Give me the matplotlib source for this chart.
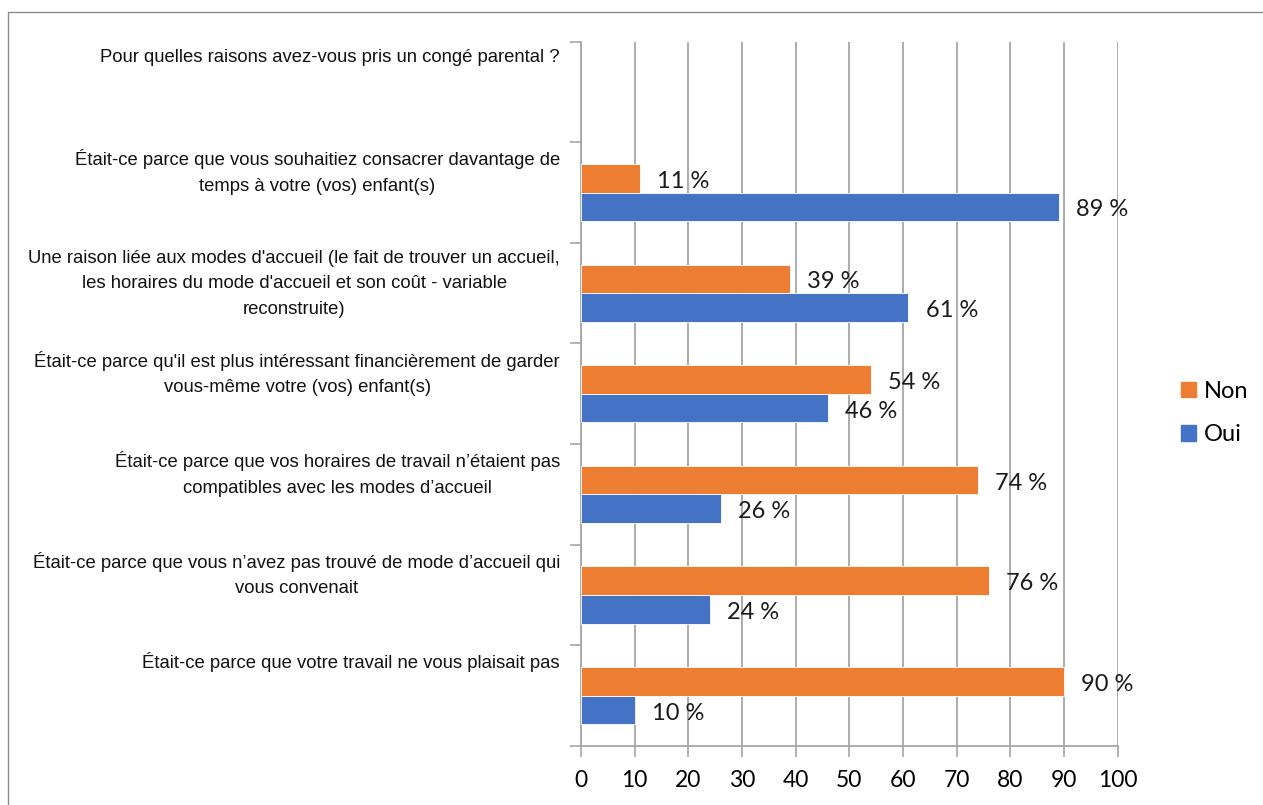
import numpy as np
import matplotlib
matplotlib.use("Agg")
import matplotlib.pyplot as plt
import matplotlib.patches as mpatches
from matplotlib.transforms import blended_transform_factory

# Survey answers, top to bottom (first row is the question itself, no bars)
categories = [
    "Pour quelles raisons avez-vous pris un congé parental ?",
    "Était-ce parce que vous souhaitiez consacrer davantage de\ntemps à votre (vos) enfant(s)",
    "Une raison liée aux modes d'accueil (le fait de trouver un accueil,\nles horaires du mode d'accueil et son coût - variable\nreconstruite)",
    "Était-ce parce qu'il est plus intéressant financièrement de garder\nvous-même votre (vos) enfant(s)",
    "Était-ce parce que vos horaires de travail n\u2019étaient pas\ncompatibles avec les modes d\u2019accueil",
    "Était-ce parce que vous n\u2019avez pas trouvé de mode d\u2019accueil qui\nvous convenait",
    "Était-ce parce que votre travail ne vous plaisait pas",
]
non_pct = [np.nan, 11, 39, 54, 74, 76, 90]
oui_pct = [np.nan, 89, 61, 46, 26, 24, 10]
series_names = ["Non", "Oui"]
xticks = list(range(0, 101, 10))

c_non = "#ED7D31"
c_oui = "#4472C4"
grid_c = "#a6a6a6"

label_font = ["Liberation Sans", "DejaVu Sans"]
label_size = 13.3
num_font = ["Lato", "DejaVu Sans"]

fig = plt.figure(figsize=(12.63, 8.05), dpi=100)
ax = fig.add_axes([0.460, 0.0733, 0.425, 0.875])

# outer chart frame
fig.add_artist(mpatches.Rectangle((8 / 1263, -0.1), 1.2, 1 - 12 / 805 + 0.1,
                                  transform=fig.transFigure, fill=False,
                                  edgecolor="#8c8c8c", linewidth=1.0))

y = np.arange(len(categories))
h = 0.285
ax.barh(y - h / 2, non_pct, height=h, color=c_non, edgecolor="white",
        linewidth=0.6, label=series_names[0], zorder=3)
ax.barh(y + h / 2, oui_pct, height=h, color=c_oui, edgecolor="white",
        linewidth=0.6, label=series_names[1], zorder=3)

# value labels
for yi, n, o in zip(y, non_pct, oui_pct):
    if not np.isnan(n):
        ax.text(n + 3.2, yi - h / 2 + 0.03, f"{n:.0f} %", va="center", ha="left",
                fontsize=17, family=num_font, color="#1a1a1a", zorder=4)
    if not np.isnan(o):
        ax.text(o + 3.2, yi + h / 2 + 0.03, f"{o:.0f} %", va="center", ha="left",
                fontsize=17, family=num_font, color="#1a1a1a", zorder=4)

ax.set_xlim(0, 100)
ax.set_ylim(len(categories) - 0.5, -0.5)
ax.set_xticks(xticks)
ax.set_xticklabels([str(t) for t in xticks], family=num_font, fontsize=16.5)
ax.tick_params(axis="x", length=8, color=grid_c, width=1.2, pad=9)

# boundary ticks on the category axis, labels hang from the top of each band
ax.set_yticks(np.arange(len(categories) + 1) - 0.5)
ax.set_yticklabels([])
ax.tick_params(axis="y", length=8, color=grid_c, width=1.2)
tr = blended_transform_factory(ax.transAxes, ax.transData)
for yi, lab in zip(y, categories):
    ax.text(-0.039, yi - 0.43, lab, transform=tr, ha="right", va="top",
            multialignment="center", fontsize=label_size, family=label_font,
            linespacing=1.65, color="#111111")

ax.grid(axis="x", color=grid_c, linewidth=1.3, zorder=0)
for s in ["top", "right"]:
    ax.spines[s].set_visible(False)
for s in ["left", "bottom"]:
    ax.spines[s].set_color(grid_c)
    ax.spines[s].set_linewidth(1.3)

leg = fig.legend(handles=[mpatches.Patch(color=c_non, label="Non"),
                          mpatches.Patch(color=c_oui, label="Oui")],
                 loc="center left", bbox_to_anchor=(0.918, 0.487), frameon=False,
                 prop={"family": num_font, "size": 17}, handlelength=0.65,
                 handleheight=0.65, handletextpad=0.35, labelspacing=0.95)

fig.savefig("out.png", dpi=100, facecolor="white")
